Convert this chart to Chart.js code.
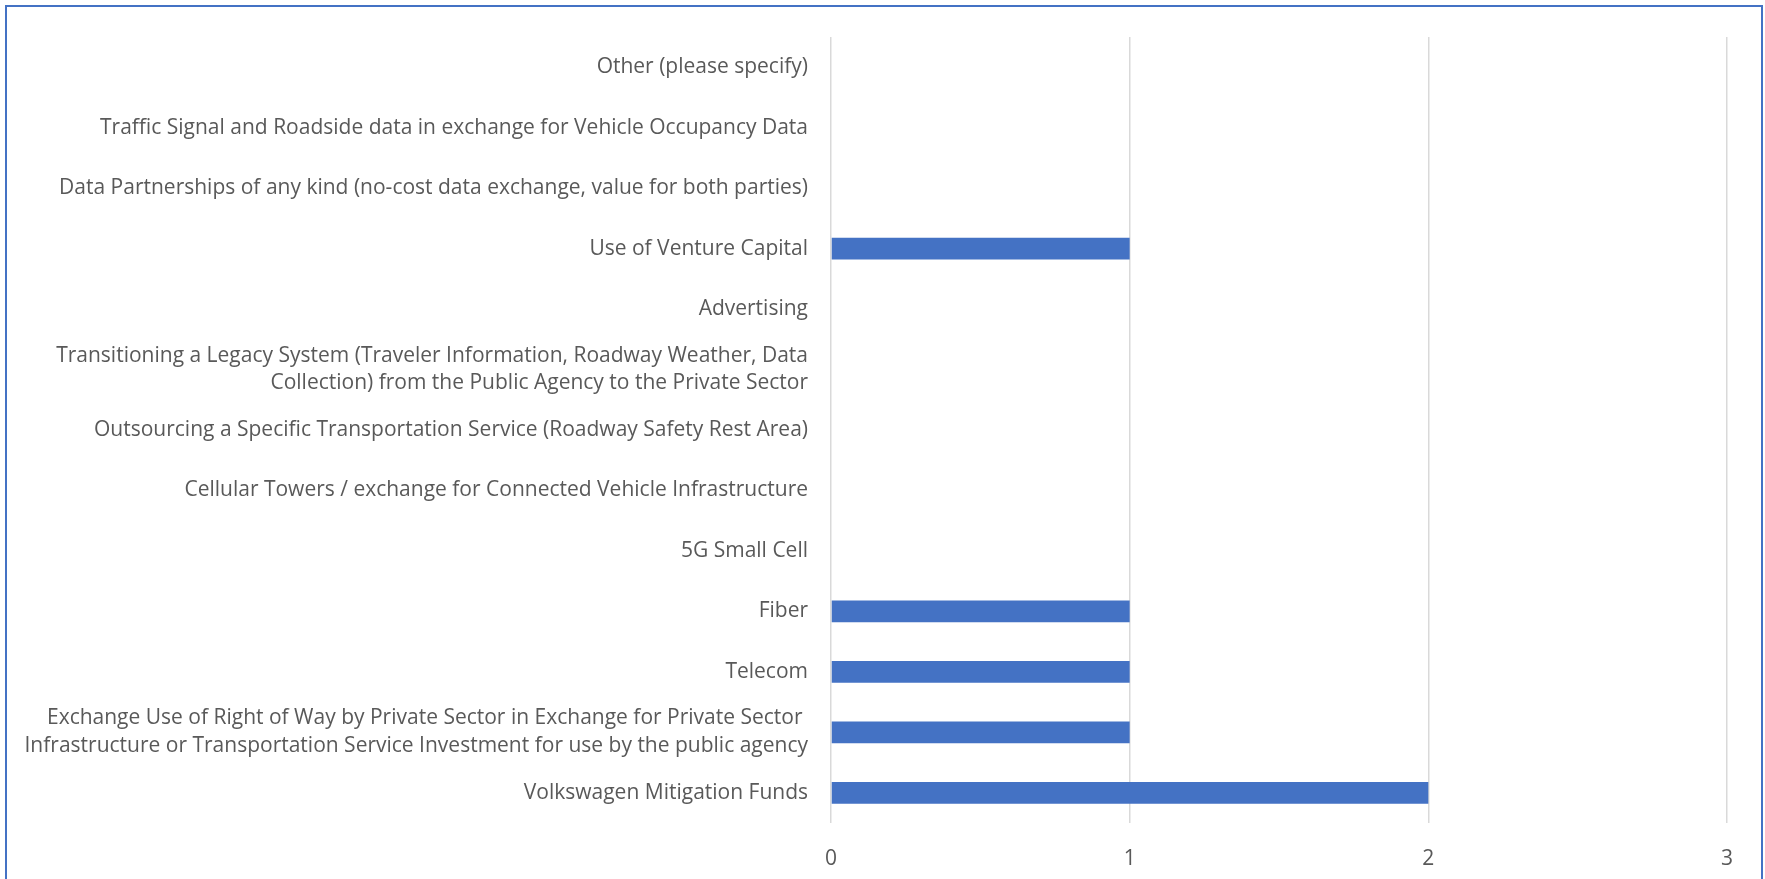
<!DOCTYPE html>
<html>
<head>
<meta charset="utf-8">
<script src="https://cdn.jsdelivr.net/npm/chart.js@4/dist/chart.umd.min.js"></script>
<style>
  html, body { margin: 0; padding: 0; background: #fff; overflow: hidden; }
  #frame { position: absolute; left: 5px; top: 5px; width: 1754px; height: 900px; border: 2px solid #4472C4; }
  #wrap { position: absolute; left: 0; top: 0; width: 1765px; height: 879px; }
</style>
</head>
<body>
<div id="frame"></div>
<div id="wrap"><canvas id="myChart"></canvas></div>
<script>
// categories, top to bottom as in the picture
var categories = [
	"Other (please specify)",
	"Traffic Signal and Roadside data in exchange for Vehicle Occupancy Data",
	"Data Partnerships of any kind (no-cost data exchange, value for both parties)",
	"Use of Venture Capital",
	"Advertising",
	["Transitioning a Legacy System (Traveler Information, Roadway Weather, Data", "Collection) from the Public Agency to the Private Sector"],
	"Outsourcing a Specific Transportation Service (Roadway Safety Rest Area)",
	"Cellular Towers / exchange for Connected Vehicle Infrastructure",
	"5G Small Cell",
	"Fiber",
	"Telecom",
	["Exchange Use of Right of Way by Private Sector in Exchange for Private Sector ", "Infrastructure or Transportation Service Investment for use by the public agency"],
	"Volkswagen Mitigation Funds"
];
var counts = [0, 0, 0, 1, 0, 0, 0, 0, 0, 1, 1, 1, 2];
var axisMin = 0;
var axisMax = 3;

var fontFamily = "'Open Sans', 'Liberation Sans', sans-serif";
var textColor = '#595959';

var ctx = document.getElementById('myChart');
var chart = new Chart(ctx, {
	type: 'bar',
	data: {
		labels: categories,
		datasets: [{
			data: counts,
			backgroundColor: '#4472C4',
			borderWidth: 0,
			categoryPercentage: 1,
			barPercentage: 0.36
		}]
	},
	options: {
		indexAxis: 'y',
		responsive: true,
		maintainAspectRatio: false,
		animation: false,
		layout: { padding: { left: 0, right: 38, top: 37, bottom: 0 } },
		plugins: {
			legend: { display: false },
			tooltip: { enabled: false }
		},
		scales: {
			x: {
				min: axisMin,
				max: axisMax,
				ticks: { stepSize: 1, color: textColor, padding: 23, font: { family: fontFamily, size: 21 } },
				grid: { color: '#d9d9d9', lineWidth: 1.5, drawTicks: false },
				border: { display: false },
				afterFit: function(scale) { scale.height = 56; }
			},
			y: {
				ticks: { color: textColor, padding: 15, font: { family: fontFamily, size: 21, lineHeight: 1.33 } },
				grid: { display: false },
				border: { display: false },
				afterFit: function(scale) { scale.width = 831; }
			}
		}
	}
});
</script>
</body>
</html>
